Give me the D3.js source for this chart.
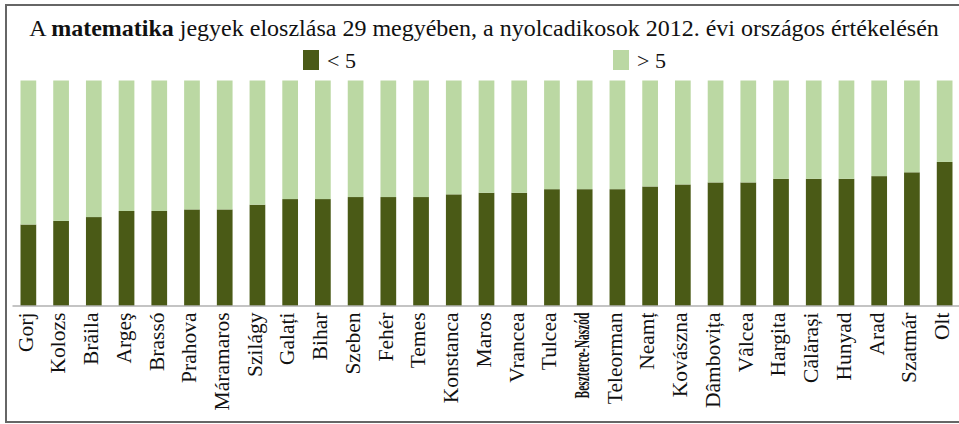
<!DOCTYPE html>
<html>
<head>
<meta charset="utf-8">
<script src="https://cdn.jsdelivr.net/npm/d3@7"></script>
<style>
  html, body { margin: 0; padding: 0; background: #fff; }
  svg { display: block; }
</style>
</head>
<body>
<svg id="chart" width="959" height="424"></svg>
<script>
const categories = ["Gorj","Kolozs","Brăila","Argeş","Brassó","Prahova","Máramaros","Szilágy","Galați","Bihar","Szeben","Fehér","Temes","Konstanca","Maros","Vrancea","Tulcea","Beszterce-Naszód","Teleorman","Neamț","Kovászna","Dâmbovița","Vâlcea","Hargita","Călărași","Hunyad","Arad","Szatmár","Olt"];
const below5 = [0.360,0.376,0.393,0.420,0.420,0.427,0.427,0.448,0.473,0.473,0.482,0.482,0.482,0.494,0.501,0.501,0.517,0.517,0.517,0.529,0.538,0.547,0.547,0.563,0.563,0.563,0.575,0.592,0.638];
const above5 = below5.map(v => 1 - v);
const seriesNames = ["< 5", "> 5"];
const colors = ["#4a5a16", "#bbd8a3"];

const svg = d3.select("#chart");
const serif = "'Liberation Serif', 'Times New Roman', serif";

// outer frame
svg.append("rect").attr("x", 6).attr("y", 5).attr("width", 970).attr("height", 417)
  .attr("fill", "none").attr("stroke", "#666").attr("stroke-width", 2);

const plotTop = 80.5, plotBottom = 305.5;
const x = d3.scaleBand().domain(categories).range([12, 961]).paddingInner(0.52).paddingOuter(0.26);
const y = d3.scaleLinear().domain([0, 1]).range([plotBottom, plotTop]);

const rows = categories.map((c, i) => ({cat: c, lo: below5[i], hi: above5[i]}));
const stack = d3.stack().keys(["lo", "hi"])(rows);

svg.append("g").selectAll("g").data(stack).join("g")
  .attr("fill", (d, i) => colors[i])
  .selectAll("rect").data(d => d).join("rect")
  .attr("x", d => x(d.data.cat))
  .attr("width", x.bandwidth())
  .attr("y", d => y(d[1]))
  .attr("height", d => y(d[0]) - y(d[1]));

// baseline axis
const axis = svg.append("g").attr("transform", `translate(0,${plotBottom})`)
  .call(d3.axisBottom(x).tickSize(0).tickPadding(0));
axis.select(".domain").attr("stroke", "#8a8a8a").attr("stroke-width", 1.2);
axis.selectAll(".tick text")
  .attr("font-family", serif).attr("font-size", 21.5).attr("fill", "#111")
  .attr("text-anchor", "end")
  .attr("transform", "rotate(-90)")
  .attr("x", -7).attr("y", 0).attr("dy", "0.2em");
// condensed label like the reference
axis.selectAll(".tick text").filter(d => d === "Beszterce-Naszód")
  .attr("textLength", 86).attr("lengthAdjust", "spacingAndGlyphs").attr("font-weight", "bold").attr("font-size", 20);

// title
const title = svg.append("text").attr("x", 484).attr("y", 36).attr("text-anchor", "middle")
  .attr("font-family", serif).attr("font-size", 24).attr("fill", "#111");
title.append("tspan").text("A ");
title.append("tspan").attr("font-weight", "bold").text("matematika");
title.append("tspan").text(" jegyek eloszlása 29 megyében, a nyolcadikosok 2012. évi országos értékelésén");

// legend
const legendX = [303, 613];
seriesNames.forEach((n, i) => {
  const g = svg.append("g").attr("transform", `translate(${legendX[i]},50)`);
  g.append("rect").attr("width", 16).attr("height", 20).attr("fill", colors[i]);
  g.append("text").attr("x", 24).attr("y", 18).attr("font-family", serif)
    .attr("font-size", 22).attr("fill", "#111").text(n);
});
</script>
</body>
</html>
